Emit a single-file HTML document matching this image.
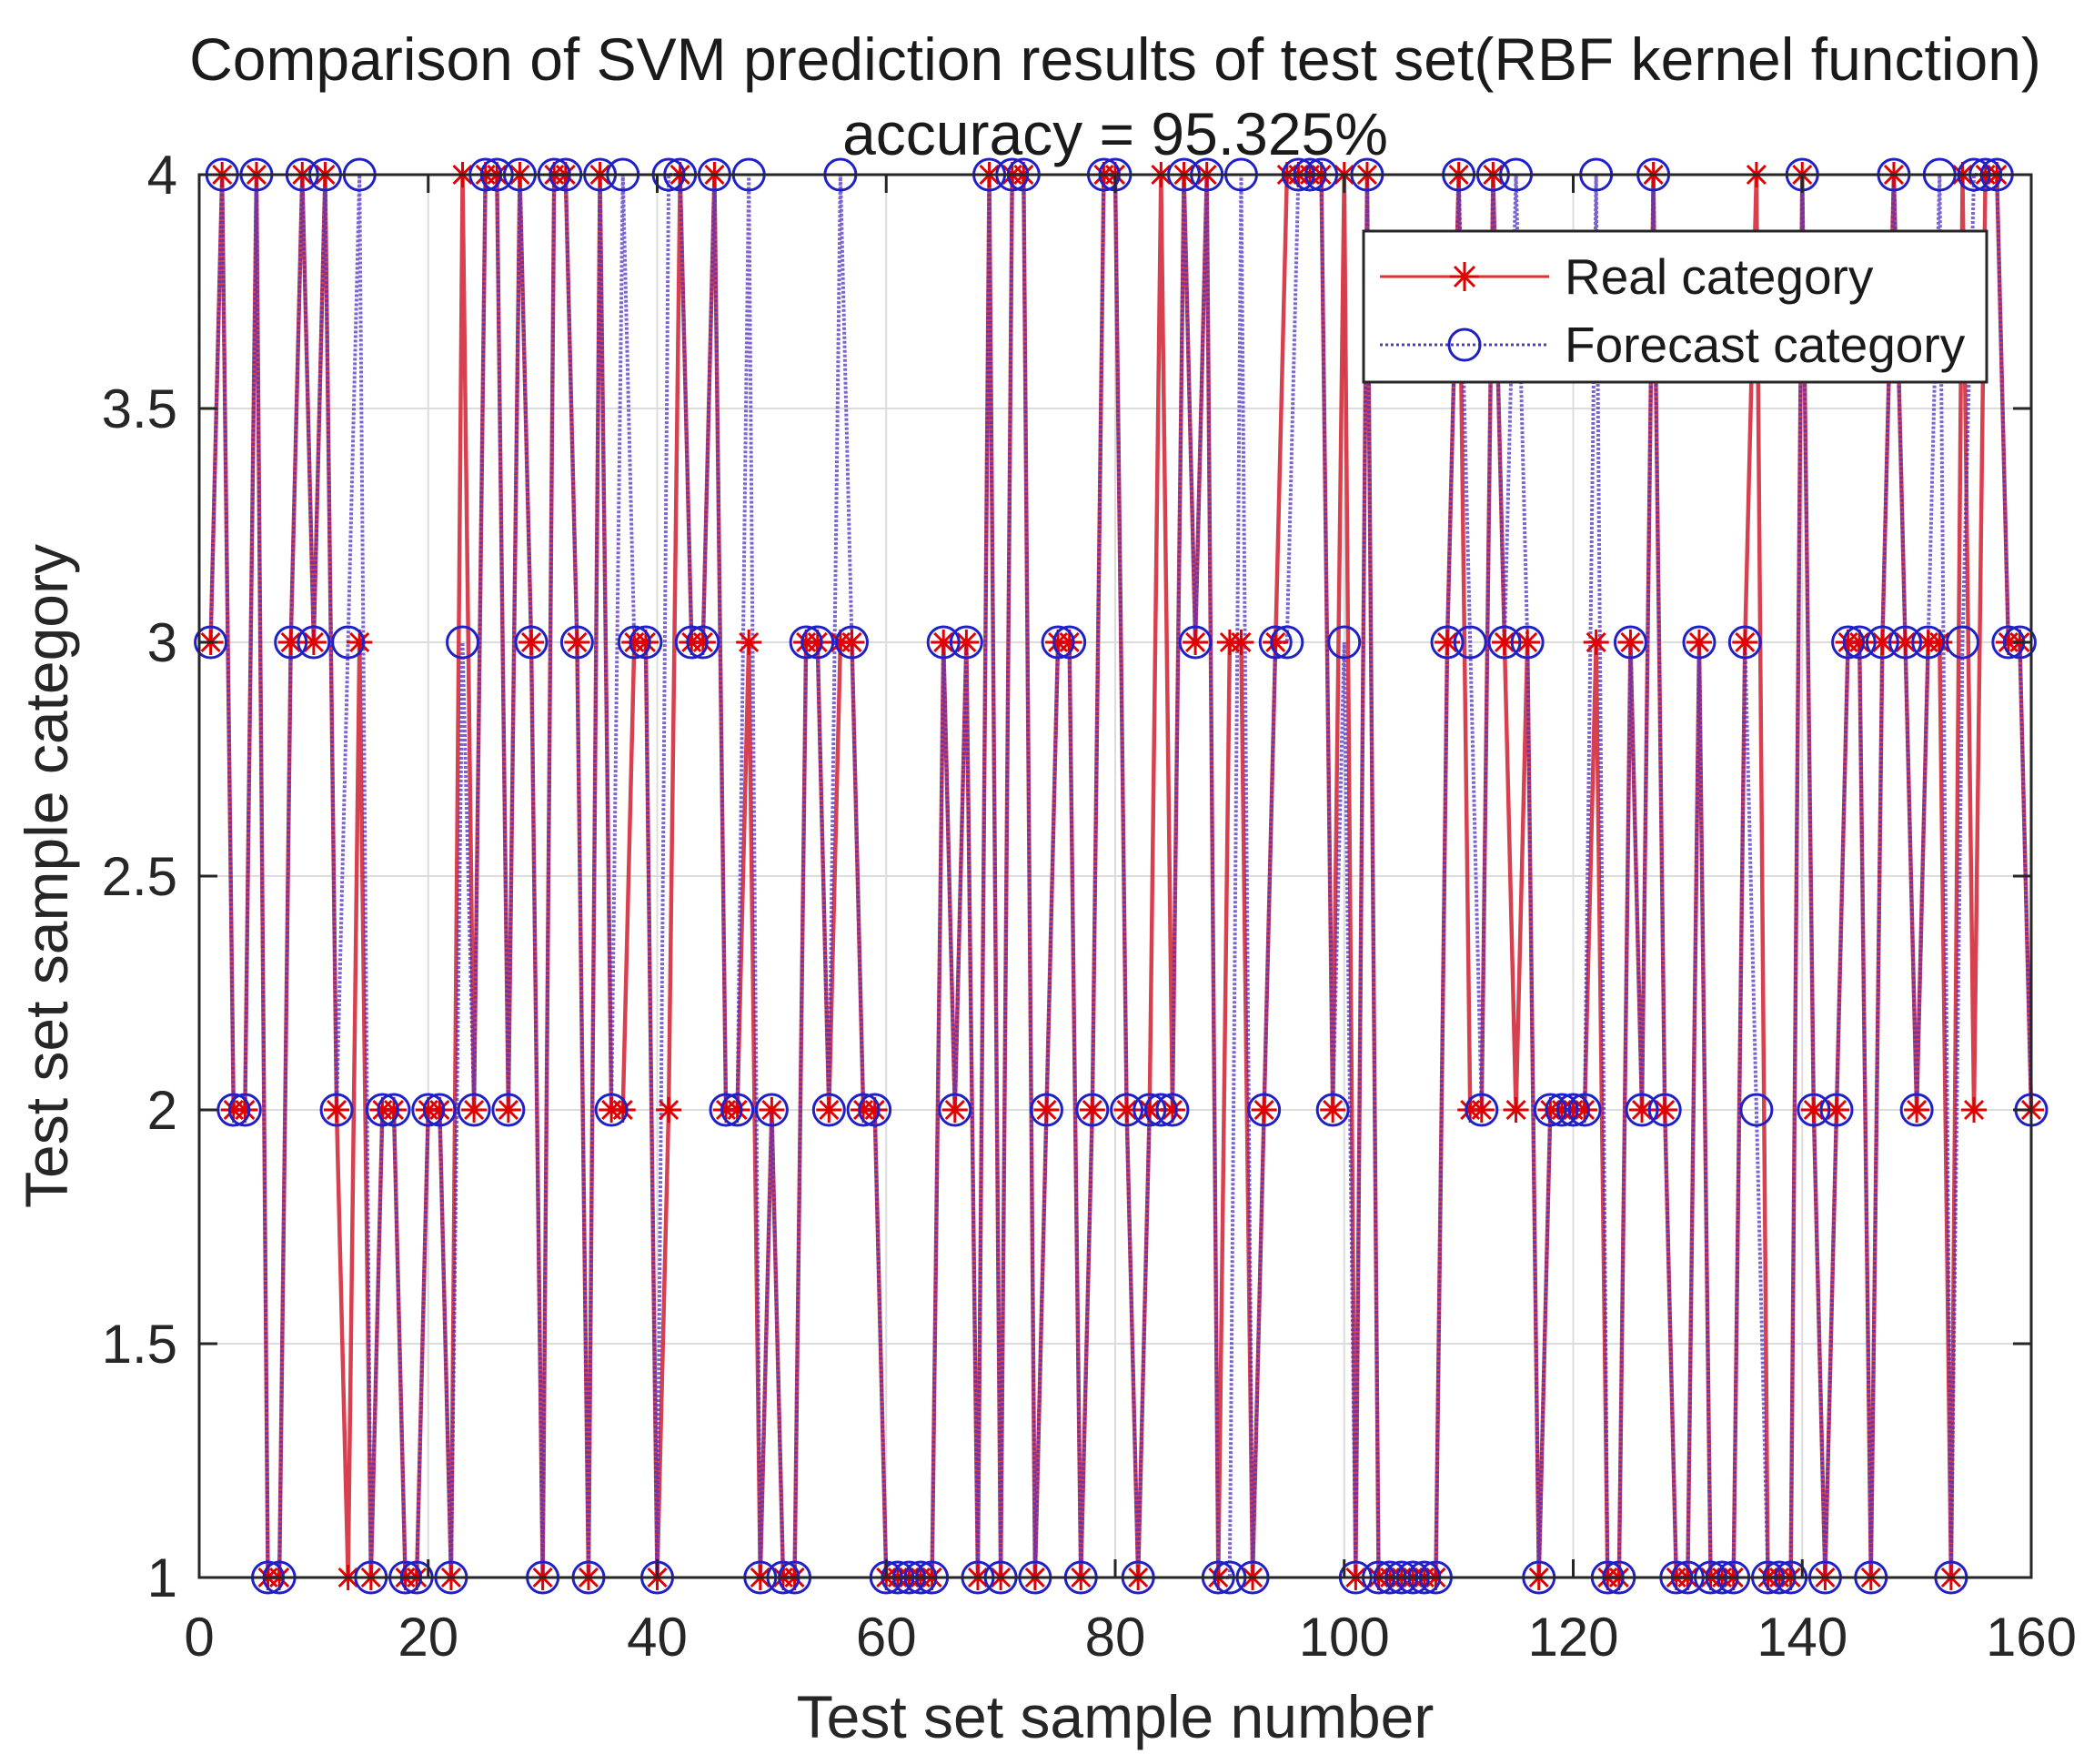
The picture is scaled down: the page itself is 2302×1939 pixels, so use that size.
<!DOCTYPE html>
<html><head><meta charset="utf-8"><style>
body{margin:0;background:#fff;}
svg{display:block;font-family:"Liberation Sans",Arial,sans-serif;}
</style></head><body>
<svg id="chart" width="2302" height="1939" viewBox="0 0 2302 1939" xmlns="http://www.w3.org/2000/svg">
<rect width="2302" height="1939" fill="#fff"/>
<g id="grid"></g>
<g id="series"></g>
<rect x="219" y="192" width="2014" height="1542" fill="none" stroke="#262626" stroke-width="3"/>
<g id="ticks"></g>
<text x="1226" y="88" text-anchor="middle" font-size="66" fill="#1a1a1a">Comparison of SVM prediction results of test set(RBF kernel function)</text>
<text x="1226" y="170" text-anchor="middle" font-size="66" fill="#1a1a1a">accuracy = 95.325%</text>
<text x="1226" y="1910" text-anchor="middle" font-size="66" fill="#262626">Test set sample number</text>
<text transform="translate(74,963) rotate(-90)" text-anchor="middle" font-size="66" fill="#262626">Test set sample category</text>
<g>
<rect x="1499" y="254" width="685" height="166" fill="#fff" stroke="#262626" stroke-width="3"/>
<g>
<line x1="1517" y1="304" x2="1703" y2="304" stroke="#e03030" stroke-width="3"/>
<g stroke="#e00000" stroke-width="3"><line x1="1610" y1="288" x2="1610" y2="320"/><line x1="1594" y1="304" x2="1626" y2="304"/><line x1="1599" y1="293" x2="1621" y2="315"/><line x1="1599" y1="315" x2="1621" y2="293"/></g>
<text x="1720" y="323" font-size="55" fill="#1a1a1a">Real category</text>
</g>
<g>
<line x1="1517" y1="379" x2="1703" y2="379" stroke="#4040d0" stroke-width="3" stroke-dasharray="3,3"/>
<circle cx="1610" cy="379" r="17" fill="none" stroke="#2020c0" stroke-width="3"/>
<text x="1720" y="398" font-size="55" fill="#1a1a1a">Forecast category</text>
</g>
</g>
</svg>
<script>
const realValues=[3,4,2,2,4,1,1,3,4,3,4,2,1,3,1,2,2,1,1,2,2,1,4,2,4,4,2,4,3,1,4,4,3,1,4,2,2,3,3,1,2,4,3,3,4,2,2,3,1,2,1,1,3,3,2,3,3,2,2,1,1,1,1,1,3,2,3,1,4,1,4,4,1,2,3,3,1,2,4,4,2,1,2,4,2,4,3,4,1,3,3,1,2,3,4,4,4,4,2,4,1,4,1,1,1,1,1,1,3,4,2,2,4,3,2,3,1,2,2,2,2,3,1,1,3,2,4,2,1,1,3,1,1,1,3,4,1,1,1,4,2,1,2,3,3,1,3,4,3,2,3,3,1,4,2,4,4,3,3,2];
const forecastValues=[3,4,2,2,4,1,1,3,4,3,4,2,3,4,1,2,2,1,1,2,2,1,3,2,4,4,2,4,3,1,4,4,3,1,4,2,4,3,3,1,4,4,3,3,4,2,2,4,1,2,1,1,3,3,2,4,3,2,2,1,1,1,1,1,3,2,3,1,4,1,4,4,1,2,3,3,1,2,4,4,2,1,2,2,2,4,3,4,1,1,4,1,2,3,3,4,4,4,2,3,1,4,1,1,1,1,1,1,3,4,3,2,4,3,4,3,1,2,2,2,2,4,1,1,3,2,4,2,1,1,3,1,1,1,3,2,1,1,1,4,2,1,2,3,3,1,3,4,3,2,3,4,1,3,4,4,4,3,3,2];
const xTicks=[0,20,40,60,80,100,120,140,160];
const yTicks=[1,1.5,2,2.5,3,3.5,4];
const yTickLabels=["1","1.5","2","2.5","3","3.5","4"];
const NS="http://www.w3.org/2000/svg";
const X0=219,X1=2233,Y0=1734,Y1=192;
function sx(v){return X0+(v-0)/(160-0)*(X1-X0);}
function sy(v){return Y0-(v-1)/(4-1)*(Y0-Y1);}
function mk(tag,attrs,parent){const e=document.createElementNS(NS,tag);for(const k in attrs)e.setAttribute(k,attrs[k]);parent.appendChild(e);return e;}
const grid=document.getElementById('grid'),ticks=document.getElementById('ticks'),series=document.getElementById('series');
xTicks.forEach(t=>{
  const g=mk('line',{x1:sx(t),x2:sx(t),y1:Y1,y2:Y0,stroke:'#dcdcdc','stroke-width':2},grid);
  
  
  mk('line',{x1:sx(t),x2:sx(t),y1:Y0,y2:Y0-20,stroke:'#262626','stroke-width':3},ticks);
  mk('line',{x1:sx(t),x2:sx(t),y1:Y1,y2:Y1+20,stroke:'#262626','stroke-width':3},ticks);
  const l=mk('text',{x:sx(t),y:Y0+86,'text-anchor':'middle','font-size':60,fill:'#262626'},ticks);
  l.textContent=t;
  
  
});
yTicks.forEach((t,i)=>{
  const g=mk('line',{x1:X0,x2:X1,y1:sy(t),y2:sy(t),stroke:'#dcdcdc','stroke-width':2},grid);
  
  
  mk('line',{x1:X0,x2:X0+20,y1:sy(t),y2:sy(t),stroke:'#262626','stroke-width':3},ticks);
  mk('line',{x1:X1,x2:X1-20,y1:sy(t),y2:sy(t),stroke:'#262626','stroke-width':3},ticks);
  const l=mk('text',{x:X0-24,y:sy(t)+21,'text-anchor':'end','font-size':60,fill:'#262626'},ticks);
  l.textContent=yTickLabels[i];
  
  
});
function pts(arr){return arr.map((v,i)=>sx(i+1)+','+sy(v)).join(' ');}
const rl=mk('polyline',{points:pts(realValues),fill:'none',stroke:'#d02030','stroke-width':4.5,'stroke-opacity':0.85},series);


const bl=mk('polyline',{points:pts(forecastValues),fill:'none',stroke:'#5030c0','stroke-width':4,'stroke-dasharray':'3,2','stroke-opacity':0.75},series);


realValues.forEach((v,i)=>{
  const x=sx(i+1),y=sy(v),r=14;
  const g=mk('g',{stroke:'#e00000','stroke-width':3},series);
  
  
  mk('line',{x1:x,x2:x,y1:y-r,y2:y+r},g);
  mk('line',{x1:x-r,x2:x+r,y1:y,y2:y},g);
  mk('line',{x1:x-10,x2:x+10,y1:y-10,y2:y+10},g);
  mk('line',{x1:x-10,x2:x+10,y1:y+10,y2:y-10},g);
});
forecastValues.forEach((v,i)=>{
  const c=mk('circle',{cx:sx(i+1),cy:sy(v),r:17,fill:'none',stroke:'#2020c8','stroke-width':3},series);
  
  
});
</script>
</body></html>
